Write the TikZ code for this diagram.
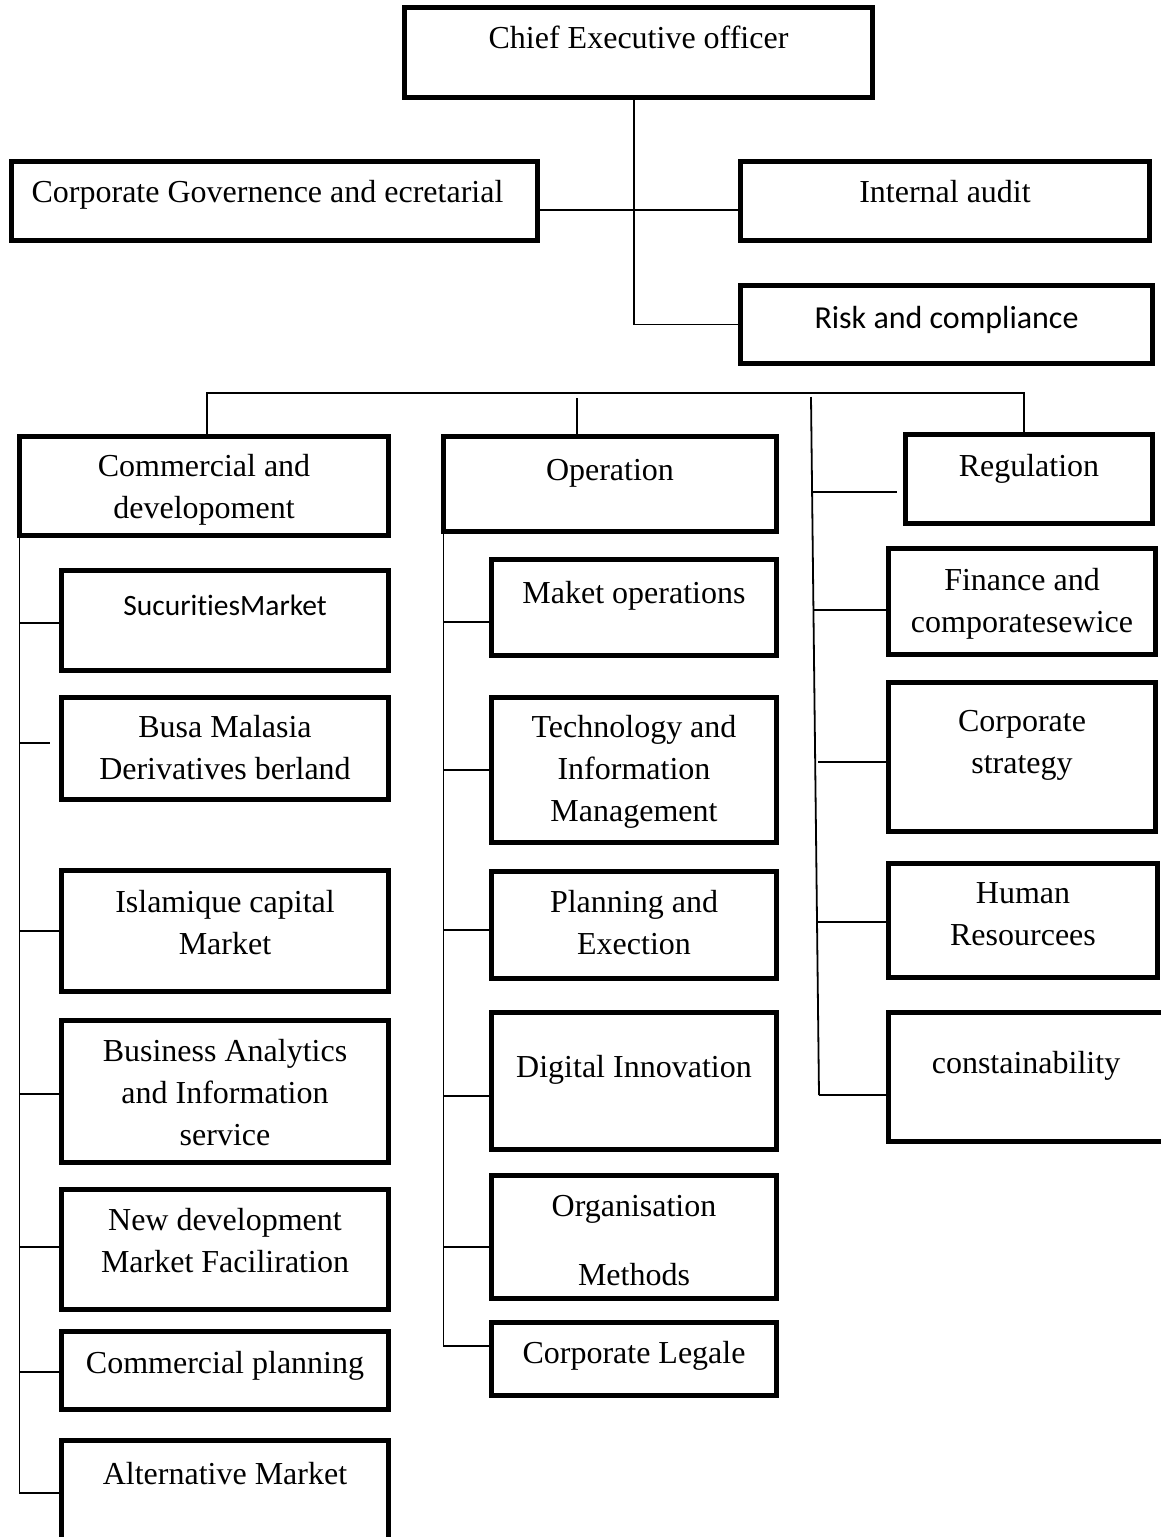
\documentclass[tikz,border=0pt]{standalone}
\usepackage{fontspec}
\setmainfont{Liberation Serif}
\setsansfont{Carlito}[Ligatures=NoCommon]
\tikzset{
  x=1pt, y=-1pt,
  obox/.style={draw, line width=5pt, rectangle, inner sep=0pt, outer sep=0pt},
  otext/.style={anchor=north, yshift=19pt, inner sep=0pt, align=center,
    font=\fontsize{32}{42}\selectfont},
  link/.style={line width=1.8pt}
}
\newcommand\orgbox[8][0]{%
  \node[obox, minimum width={(#5-#3-5)*1pt}, minimum height={(#6-#4-5)*1pt}] (#2) at ({(#3+#5)/2},{(#4+#6)/2}) {};
  \node[otext, xshift=#1pt] (#2t) at ({(#3+#5)/2},#7) {\strut #8};}
\newcommand\sanstxt{\sffamily\fontsize{32}{42}\selectfont}
\newcommand\sanssmall{\sffamily\fontsize{29.5}{42}\selectfont}
\begin{document}
\begin{tikzpicture}
\useasboundingbox (0,0) rectangle (1161,1537);
% top
\orgbox{ceo}{402}{5}{875}{100}{38}{Chief Executive officer}
\orgbox[-7]{gov}{9}{159}{540}{243}{192}{Corporate Governence and ecretarial}
\orgbox{audit}{738}{159}{1152}{243}{192}{Internal audit}
\orgbox{risk}{738}{283}{1155}{366}{318}{\sanstxt Risk and compliance}
% column 1
\orgbox{comm}{17}{434}{391}{538}{466}{Commercial and\\developoment}
\orgbox{sec}{59}{568}{391}{673}{605}{\sanssmall SucuritiesMarket}
\orgbox{busa}{59}{695}{391}{802}{727}{Busa Malasia\\Derivatives berland}
\orgbox{isl}{59}{868}{391}{994}{902}{Islamique capital\\Market}
\orgbox{ba}{59}{1018}{391}{1165}{1051}{Business Analytics\\and Information\\service}
\orgbox{nd}{59}{1187}{391}{1312}{1220}{New development\\Market Faciliration}
\orgbox{cp}{59}{1329}{391}{1412}{1363}{Commercial planning}
\orgbox{alt}{59}{1438}{391}{1550}{1474}{Alternative Market}
% column 2
\orgbox{op}{441}{434}{779}{534}{470}{Operation}
\orgbox{mo}{489}{557}{779}{658}{593}{Maket operations}
\orgbox{tech}{489}{695}{779}{845}{727}{Technology and\\Information\\Management}
\orgbox{plan}{489}{869}{779}{981}{902}{Planning and\\Exection}
\orgbox{dig}{489}{1010}{779}{1152}{1067}{Digital Innovation}
\orgbox{org}{489}{1173}{779}{1301}{1206}{Organisation\\[27pt]Methods}
\orgbox{legal}{489}{1320}{779}{1398}{1353}{Corporate Legale}
% column 3
\orgbox{reg}{903}{432}{1155}{526}{466}{Regulation}
\orgbox{fin}{886}{546}{1158}{657}{580}{Finance and\\comporatesewice}
\orgbox{strat}{886}{680}{1158}{834}{721}{Corporate\\strategy}
\orgbox{hr}{886}{861}{1160}{980}{893}{Human\\Resourcees}
\orgbox{cons}{886}{1010}{1166}{1144}{1063}{constainability}
% top connectors
\draw[link] (ceo.south -| 634,0) |- (risk.west);
\draw[link] (gov.east |- 0,210) -- (audit.west |- 0,210);
% bus
\coordinate (busL) at (207,393);
\coordinate (busR) at (1024,393);
\coordinate (busM) at (577,398);
\draw[link] (comm.north -| busL) |- (busR) -- (reg.north -| busR);
\draw[link] (busM) -- (op.north -| busM);
% right spine (slightly slanted)
\coordinate (rsTop) at (811,397);
\coordinate (rsBot) at (819,1095);
\draw[link] (rsTop) -- (rsBot);
\draw[link] (812,492) -- (897,492);
\draw[link] (813,610) -- (fin.west |- 0,610);
\draw[link] (818,762) -- (strat.west |- 0,762);
\draw[link] (818,922) -- (hr.west |- 0,922);
\draw[link] (rsBot) -- (cons.west |- rsBot);
% left spine
\draw[link] (comm.south west) -- (comm.south west |- 0,1493) -- (alt.west |- 0,1493);
\foreach \n/\yy in {sec/623, isl/931, ba/1094, nd/1247, cp/1372}
  \draw[link] (comm.south west |- 0,\yy) -- (\n.west |- 0,\yy);
\draw[link] (comm.south west |- 0,743) -- (50,743);
% middle spine
\draw[link] (op.south west) -- (op.south west |- 0,1346) -- (legal.west |- 0,1346);
\foreach \n/\yy in {mo/622, tech/770, plan/930, dig/1096, org/1247}
  \draw[link] (op.south west |- 0,\yy) -- (\n.west |- 0,\yy);
\end{tikzpicture}
\end{document}
